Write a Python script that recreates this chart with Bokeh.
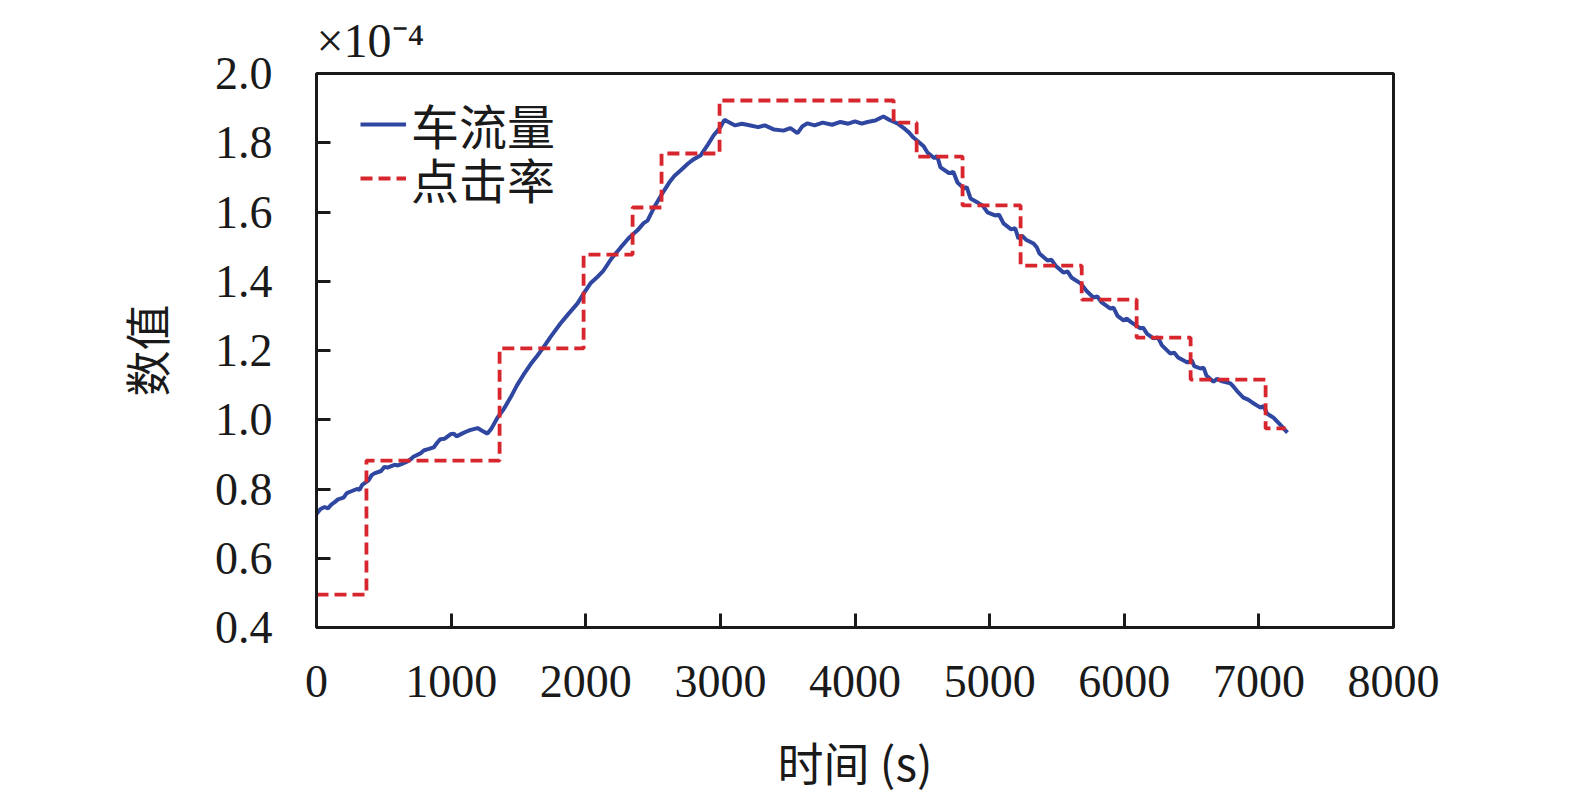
from bokeh.plotting import figure
from bokeh.models import FixedTicker, PrintfTickFormatter, Range1d, Legend, LegendItem
from bokeh.embed import file_html
from bokeh.resources import INLINE

# Traffic flow (blue), units of 1e-4
flow_t = [0, 30, 60, 85, 110, 135, 160, 201, 225, 250, 300, 320, 340, 386, 410, 430, 480, 505, 527, 580,
          605, 630, 676, 700, 720, 772, 800, 830, 870, 899, 920, 950, 995, 1020, 1040, 1092, 1115, 1140,
          1196, 1230, 1270, 1300, 1344, 1390, 1441, 1490, 1538, 1590, 1640, 1686, 1740, 1812, 1870, 1939,
          1990, 2035, 2080, 2132, 2190, 2258, 2320, 2384, 2430, 2459, 2510, 2563, 2620, 2660, 2704, 2760,
          2800, 2852, 2900, 2949, 3000, 3030, 3060, 3110, 3160, 3224, 3280, 3330, 3400, 3469, 3520, 3573,
          3610, 3647, 3700, 3760, 3830, 3892, 3950, 4000, 4050, 4093, 4150, 4211, 4260, 4315, 4370, 4400,
          4434, 4480, 4510, 4538, 4590, 4610, 4635, 4700, 4730, 4761, 4810, 4830, 4858, 4920, 4950, 4984,
          5040, 5070, 5103, 5160, 5190, 5214, 5240, 5270, 5326, 5350, 5370, 5430, 5460, 5490, 5548, 5580,
          5610, 5675, 5700, 5720, 5771, 5800, 5830, 5897, 5920, 5950, 5994, 6020, 6050, 6120, 6140, 6170,
          6217, 6250, 6280, 6343, 6370, 6400, 6469, 6500, 6520, 6566, 6590, 6610, 6663, 6690, 6720, 6789,
          6815, 6840, 6885, 6920, 6950, 7012, 7035, 7060, 7108, 7160, 7212]
flow_v = [0.728, 0.742, 0.748, 0.744, 0.755, 0.762, 0.770, 0.775, 0.788, 0.792, 0.800, 0.798, 0.812, 0.825,
          0.840, 0.845, 0.852, 0.864, 0.862, 0.870, 0.868, 0.872, 0.880, 0.886, 0.893, 0.903, 0.912, 0.915,
          0.920, 0.935, 0.944, 0.945, 0.958, 0.960, 0.952, 0.962, 0.966, 0.970, 0.976, 0.968, 0.960, 0.975,
          1.006, 1.030, 1.064, 1.100, 1.130, 1.160, 1.185, 1.209, 1.240, 1.278, 1.305, 1.336, 1.368, 1.394,
          1.410, 1.431, 1.465, 1.497, 1.525, 1.547, 1.568, 1.575, 1.615, 1.650, 1.685, 1.705, 1.720, 1.740,
          1.752, 1.763, 1.790, 1.821, 1.845, 1.866, 1.860, 1.850, 1.855, 1.850, 1.845, 1.850, 1.838, 1.835,
          1.842, 1.828, 1.848, 1.856, 1.850, 1.858, 1.852, 1.860, 1.855, 1.862, 1.855, 1.860, 1.864, 1.876,
          1.865, 1.856, 1.840, 1.830, 1.815, 1.800, 1.790, 1.772, 1.755, 1.762, 1.729, 1.712, 1.716, 1.685,
          1.668, 1.672, 1.639, 1.625, 1.618, 1.599, 1.590, 1.592, 1.567, 1.550, 1.553, 1.523, 1.532, 1.520,
          1.509, 1.498, 1.480, 1.460, 1.462, 1.445, 1.425, 1.428, 1.410, 1.394, 1.382, 1.372, 1.353, 1.356,
          1.340, 1.321, 1.324, 1.300, 1.287, 1.292, 1.282, 1.264, 1.266, 1.248, 1.235, 1.238, 1.215, 1.191,
          1.194, 1.180, 1.165, 1.172, 1.155, 1.148, 1.150, 1.128, 1.110, 1.118, 1.112, 1.105, 1.094, 1.082,
          1.064, 1.058, 1.050, 1.035, 1.040, 1.018, 1.006, 0.985, 0.963]

# Click rate (red step), units of 1e-4
click_edges = [0, 371, 1360, 1984, 2348, 2563, 2994, 4287, 4458, 4799, 5230, 5684, 6092, 6493, 7050, 7199]
click_vals = [0.495, 0.882, 1.206, 1.477, 1.613, 1.769, 1.922, 1.858, 1.760, 1.619, 1.445, 1.347, 1.237,
              1.116, 0.975]

x_ticks = [0, 1000, 2000, 3000, 4000, 5000, 6000, 7000, 8000]
y_ticks = [0.4, 0.6, 0.8, 1.0, 1.2, 1.4, 1.6, 1.8, 2.0]

SERIF = "Liberation Serif, Noto Sans CJK SC"
CJK = "Noto Sans CJK SC"

FL, FT, FW, FH = 316, 73, 1077, 554
p = figure(frame_width=FW, frame_height=FH, output_backend="svg", toolbar_location=None,
           x_range=Range1d(0, 8000), y_range=Range1d(0.4, 2.0),
           min_border_left=FL, min_border_right=150,
           min_border_top=FT, min_border_bottom=160,
           title="×10⁻⁴")
p.title.align = "left"
p.title.text_font = SERIF
p.title.text_font_size = "48px"
p.title.text_font_style = "normal"
p.title.text_color = "#1a1a1a"
p.title.standoff = 14
p.title.offset = 0
p.grid.visible = False
p.outline_line_color = "#1a1a1a"
p.outline_line_width = 3
p.background_fill_color = "white"
p.border_fill_color = "white"

for ax in (p.xaxis[0], p.yaxis[0]):
    ax.axis_line_width = 3
    ax.axis_line_color = "#1a1a1a"
    ax.major_tick_in = 14
    ax.major_tick_out = 0
    ax.major_tick_line_width = 3
    ax.major_tick_line_color = "#1a1a1a"
    ax.minor_tick_line_color = None
    ax.major_label_text_font = SERIF
    ax.major_label_text_font_size = "46px"
    ax.major_label_text_color = "#1a1a1a"
    ax.axis_label_text_font = CJK
    ax.axis_label_text_font_size = "46px"
    ax.axis_label_text_font_style = "normal"
    ax.axis_label_text_color = "#1a1a1a"

p.xaxis.ticker = FixedTicker(ticks=x_ticks)
p.yaxis.ticker = FixedTicker(ticks=y_ticks)
p.yaxis.formatter = PrintfTickFormatter(format="%.1f")
p.xaxis.major_label_standoff = 38
p.yaxis.major_label_standoff = 44
p.xaxis.axis_label = "时间 (s)"
p.yaxis.axis_label = "数值"
p.xaxis.axis_label_standoff = 28
p.yaxis.axis_label_standoff = 34

flow = p.line(flow_t, flow_v, line_color="#2f47a0", line_width=4)
click = p.step(click_edges, click_vals + [click_vals[-1]], mode="after",
               line_color="#d7262e", line_width=3.8, line_dash="12 6")


def make_legend(label, rend, vy):
    lg = Legend(items=[LegendItem(label=label, renderers=[rend])], location=(44, vy))
    lg.border_line_color = None
    lg.background_fill_alpha = 0
    lg.label_text_font = CJK
    lg.label_text_font_size = "48px"
    lg.label_text_color = "#1a1a1a"
    lg.glyph_width = 46
    lg.glyph_height = 48
    lg.label_height = 48
    lg.label_standoff = 5
    lg.margin = 0
    lg.padding = 0
    return lg


p.add_layout(make_legend("车流量", flow, 468))
p.add_layout(make_legend("点击率", click, 414))

open("out.html", "w").write(file_html(p, INLINE))
